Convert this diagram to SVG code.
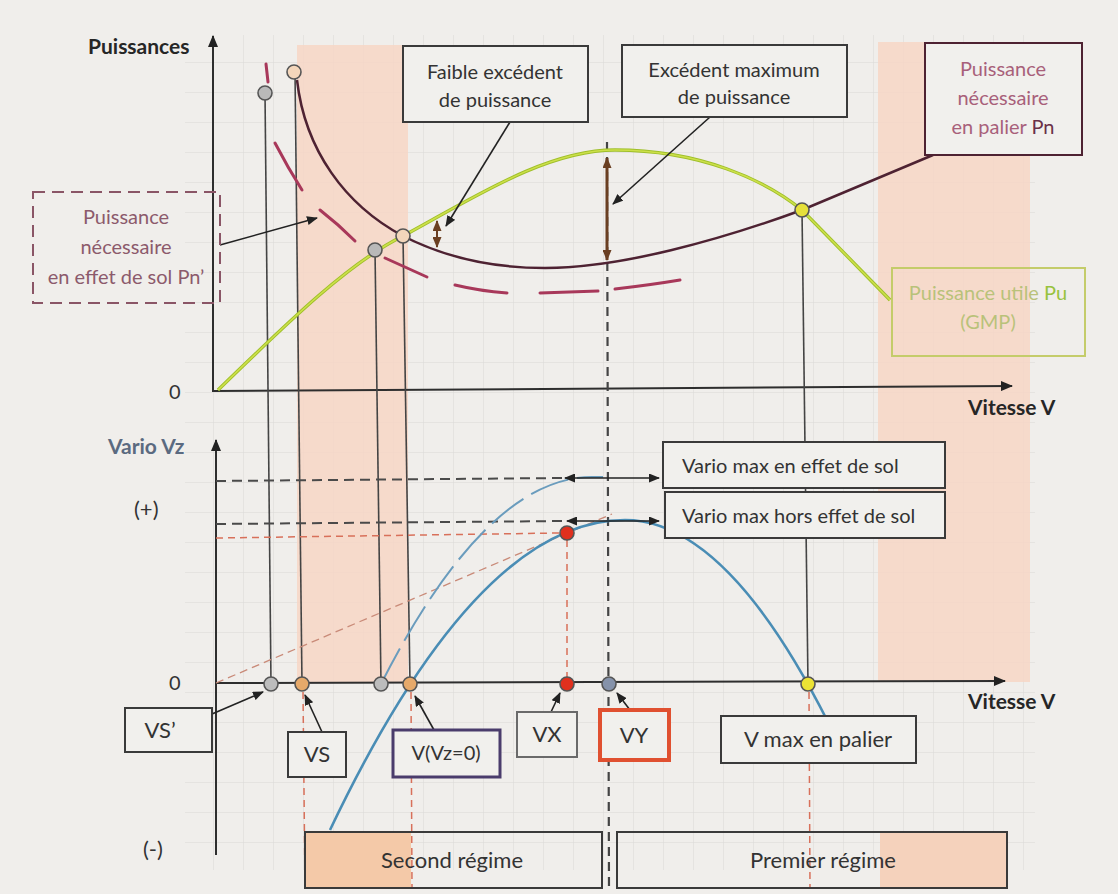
<svg xmlns="http://www.w3.org/2000/svg" width="1118" height="894" viewBox="0 0 1118 894">
<defs>
<pattern id="grid" width="30" height="30" patternUnits="userSpaceOnUse" x="3" y="2">
<path d="M30 0 L0 0 0 30" fill="none" stroke="#d9d8d6" stroke-width="1"/>
</pattern>
<marker id="ah" markerWidth="11" markerHeight="9" refX="10" refY="4.5" orient="auto-start-reverse" markerUnits="userSpaceOnUse">
<path d="M0,0 L11,4.5 L0,9 z" fill="#222"/>
</marker>
<marker id="ahb" markerWidth="11" markerHeight="9" refX="10" refY="4.5" orient="auto-start-reverse" markerUnits="userSpaceOnUse">
<path d="M0,0 L11,4.5 L0,9 z" fill="#6a3f22"/>
</marker>
<marker id="axh" markerWidth="12" markerHeight="10" refX="11" refY="5" orient="auto" markerUnits="userSpaceOnUse">
<path d="M0,0 L12,5 L0,10 z" fill="#222"/>
</marker>
<style>
.t{font-family:Lato,"Open Sans","Liberation Sans",sans-serif;font-size:20px;fill:#333}
.b{font-weight:bold;fill:#262626;font-size:21px}
.lg{font-size:22px}
.box{fill:#f1f0ed;stroke:#3a3a3a;stroke-width:2}
.v{fill:none;stroke:#444;stroke-width:1.6}
.ax{fill:none;stroke:#2e2e2e;stroke-width:2}
.dk{fill:none;stroke:#4a4a4a;stroke-width:2;stroke-dasharray:10 6}
.rd{fill:none;stroke:#d8705a;stroke-width:1.5;stroke-dasharray:7 5}
.ar{fill:none;stroke:#222;stroke-width:1.6}
.pt{stroke:#555;stroke-width:1.6}
.pink{fill:#f7d6c6;opacity:0.85}
</style>
</defs>
<rect width="1118" height="894" fill="#f0eeeb"/>
<rect x="185" y="35" width="850" height="835" fill="url(#grid)"/>
<rect class="pink" x="297" y="45" width="111" height="638"/>
<rect class="pink" x="878" y="42" width="152" height="640"/>

<g id="axes">
<line class="ax" x1="213" y1="392" x2="213" y2="36" marker-end="url(#axh)"/>
<line class="ax" x1="213" y1="391" x2="1012" y2="386" marker-end="url(#axh)"/>
<line class="ax" x1="216" y1="855" x2="216" y2="440" marker-end="url(#axh)"/>
<line class="ax" x1="216" y1="683" x2="1005" y2="681" marker-end="url(#axh)"/>
<text class="t b" x="88" y="54">Puissances</text>
<text class="t" x="169" y="399">0</text>
<text class="t b" x="968" y="415">Vitesse V</text>
<text class="t b" x="108" y="454" style="fill:#5b6a80">Vario Vz</text>
<text class="t lg" x="134" y="517">(+)</text>
<text class="t" x="169" y="690">0</text>
<text class="t b" x="968" y="709">Vitesse V</text>
<text class="t lg" x="143" y="857">(-)</text>
</g>

<g id="connectors">
<line class="v" x1="265" y1="93" x2="271" y2="684"/>
<line class="v" x1="295" y1="72" x2="302" y2="684"/>
<line class="v" x1="375" y1="250" x2="381" y2="684"/>
<line class="v" x1="403" y1="236" x2="410" y2="684"/>
<line class="v" x1="802" y1="210" x2="808" y2="684"/>
<line x1="607" y1="142" x2="609" y2="892" stroke="#444" stroke-width="2.2" stroke-dasharray="9 6"/>
<path class="dk" d="M216,481 L563,478"/>
<path class="dk" d="M216,524 L565,521"/>
<path class="rd" d="M216,538 L560,533"/>
<path class="rd" d="M567,540 L567,677"/>
<path class="rd" d="M303,692 L305,888"/>
<path class="rd" d="M411,692 L412,888"/>
<path class="rd" d="M809,692 L810,888"/>
<path d="M216,683 L612,514" fill="none" stroke="#c98a78" stroke-width="1.3" stroke-dasharray="8 5"/>
<path d="M218,390 C290,320 350,262 403,236 C470,200 545,150 615,150 C700,150 765,180 802,210 L890,300" fill="none" stroke="#9fbf2a" stroke-width="3.4"/>
<path d="M218,390 C290,320 350,262 403,236 C470,200 545,150 615,150 C700,150 765,180 802,210 L890,300" fill="none" stroke="#cde04a" stroke-width="1.6"/>
<path d="M297,80 C305,150 345,205 403,236 C450,260 500,268 545,268 C620,268 720,240 802,210 L933,155" fill="none" stroke="#4e2232" stroke-width="2.5"/>
<g fill="none" stroke="#a8385a" stroke-width="3" stroke-linecap="round">
<path d="M266,64 L268,82"/>
<path d="M275,143 Q288,168 302,190"/>
<path d="M320,210 Q338,224 355,241"/>
<path d="M385,258 L427,277"/>
<path d="M455,285 Q480,291 507,293"/>
<path d="M540,293 L598,291"/>
<path d="M615,289 Q650,285 680,280"/>
</g>
<path d="M381,684 Q486.5,477 592,477 L603,477" fill="none" stroke="#6a9cbd" stroke-width="2" stroke-dasharray="40 9"/>
<path d="M330,830 Q477.5,520 625,520 Q726,520 828,722" fill="none" stroke="#4a8db5" stroke-width="2.6"/>
<line x1="437" y1="221" x2="437" y2="247" stroke="#6a3f22" stroke-width="2" marker-start="url(#ahb)" marker-end="url(#ahb)"/>
<line x1="607" y1="158" x2="607" y2="260" stroke="#6a3f22" stroke-width="3" marker-start="url(#ahb)" marker-end="url(#ahb)"/>
<line class="ar" x1="565" y1="478" x2="659" y2="478" stroke-width="2" marker-start="url(#ah)" marker-end="url(#ah)"/>
<line class="ar" x1="567" y1="521" x2="659" y2="521" stroke-width="2" marker-start="url(#ah)" marker-end="url(#ah)"/>
<line class="ar" x1="220" y1="245" x2="317" y2="218" marker-end="url(#ah)"/>
<line class="ar" x1="510" y1="122" x2="446" y2="226" marker-end="url(#ah)"/>
<line class="ar" x1="710" y1="117" x2="613" y2="204" marker-end="url(#ah)"/>
<line class="ar" x1="212" y1="714" x2="263" y2="692" marker-end="url(#ah)"/>
<line class="ar" x1="322" y1="732" x2="305" y2="695" marker-end="url(#ah)"/>
<line class="ar" x1="434" y1="730" x2="415" y2="696" marker-end="url(#ah)"/>
<line class="ar" x1="551" y1="712" x2="560" y2="693" marker-end="url(#ah)"/>
<line class="ar" x1="630" y1="710" x2="617" y2="693" marker-end="url(#ah)"/>
</g>

<g id="points">
<circle class="pt" cx="265" cy="93" r="7" fill="#b9b9b9"/>
<circle class="pt" cx="294" cy="72" r="7" fill="#f3d6bb"/>
<circle class="pt" cx="375" cy="250" r="7" fill="#b9b9b9"/>
<circle class="pt" cx="403" cy="236" r="7" fill="#f3d6bb"/>
<circle class="pt" cx="802" cy="210" r="7" fill="#e6e03a"/>
<circle class="pt" cx="567" cy="533" r="7" fill="#e0301e" stroke="#a02010"/>
<circle class="pt" cx="271" cy="684" r="7" fill="#bcbcbc"/>
<circle class="pt" cx="302" cy="684" r="7" fill="#e6a96a"/>
<circle class="pt" cx="381" cy="684" r="7" fill="#bcbcbc"/>
<circle class="pt" cx="410" cy="684" r="7" fill="#e6a96a"/>
<circle class="pt" cx="567" cy="684" r="7" fill="#e0301e" stroke="#a02010"/>
<circle class="pt" cx="609" cy="684" r="7" fill="#8592aa"/>
<circle class="pt" cx="808" cy="684" r="7" fill="#ece335"/>
</g>

<g id="faible">
<rect class="box" x="403" y="46" width="185" height="76"/>
<text class="t" x="495" y="79" text-anchor="middle">Faible excédent</text>
<text class="t" x="495" y="107" text-anchor="middle">de puissance</text>
</g>
<g id="excedent">
<rect class="box" x="622" y="45" width="225" height="72"/>
<text class="t" x="734" y="77" text-anchor="middle">Excédent maximum</text>
<text class="t" x="734" y="104" text-anchor="middle">de puissance</text>
</g>
<g id="pn">
<rect class="box" x="925" y="43" width="157" height="112" style="stroke:#4e2232"/>
<text class="t" x="1003" y="76" text-anchor="middle" style="fill:#a8607a">Puissance</text>
<text class="t" x="1003" y="105" text-anchor="middle" style="fill:#a8607a">nécessaire</text>
<text class="t" x="1003" y="134" text-anchor="middle" style="fill:#a8607a">en palier <tspan style="fill:#6a3048">Pn</tspan></text>
</g>
<g id="pu">
<rect class="box" x="892" y="268" width="193" height="88" style="stroke:#c4cc6a;fill:none"/>
<text class="t" x="988" y="300" text-anchor="middle" style="fill:#b9c27a">Puissance utile <tspan style="fill:#98c23e">Pu</tspan></text>
<text class="t" x="988" y="329" text-anchor="middle" style="fill:#b9c27a">(GMP)</text>
</g>
<g id="pnprime">
<rect x="33" y="192" width="187" height="111" fill="none" stroke="#8a5566" stroke-width="2" stroke-dasharray="12 7"/>
<text class="t" x="126" y="224" text-anchor="middle" style="fill:#8c5a6c">Puissance</text>
<text class="t" x="126" y="254" text-anchor="middle" style="fill:#8c5a6c">nécessaire</text>
<text class="t" x="126" y="284" text-anchor="middle" style="fill:#8c5a6c">en effet de sol Pn’</text>
</g>
<g id="vario-sol">
<rect class="box" x="663" y="442" width="282" height="46"/>
<text class="t" x="682" y="473">Vario max en effet de sol</text>
</g>
<g id="vario-hors">
<rect class="box" x="665" y="492" width="280" height="46"/>
<text class="t" x="682" y="523">Vario max hors effet de sol</text>
</g>
<g id="vsprime">
<rect class="box" x="125" y="708" width="87" height="44"/>
<text class="t lg" x="160" y="738" text-anchor="middle">VS’</text>
</g>
<g id="vs">
<rect class="box" x="288" y="732" width="58" height="45"/>
<text class="t lg" x="317" y="762" text-anchor="middle">VS</text>
</g>
<g id="vvz0">
<rect class="box" x="393" y="730" width="107" height="47" style="stroke:#4a3c6c;stroke-width:3"/>
<text class="t" x="446" y="760" text-anchor="middle">V(Vz=0)</text>
</g>
<g id="vx">
<rect class="box" x="517" y="712" width="60" height="45" style="stroke:#6a6a6a"/>
<text class="t lg" x="547" y="742" text-anchor="middle">VX</text>
</g>
<g id="vy">
<rect class="box" x="600" y="710" width="69" height="50" style="stroke:#e05030;stroke-width:4"/>
<text class="t lg" x="634" y="743" text-anchor="middle">VY</text>
</g>
<g id="vmax">
<rect class="box" x="721" y="716" width="195" height="47"/>
<text class="t lg" x="818" y="747" text-anchor="middle">V max en palier</text>
</g>
<g id="second">
<rect x="305" y="832" width="106" height="56" fill="#f4c9a8"/>
<rect x="305" y="832" width="297" height="56" fill="none" stroke="#3a3a3a" stroke-width="2"/>
<text class="t lg" x="452" y="868" text-anchor="middle">Second régime</text>
</g>
<g id="premier">
<rect x="880" y="832" width="127" height="56" fill="#f5d2bc"/>
<rect x="617" y="832" width="390" height="56" fill="none" stroke="#3a3a3a" stroke-width="2"/>
<text class="t lg" x="823" y="868" text-anchor="middle">Premier régime</text>
</g>
</svg>
